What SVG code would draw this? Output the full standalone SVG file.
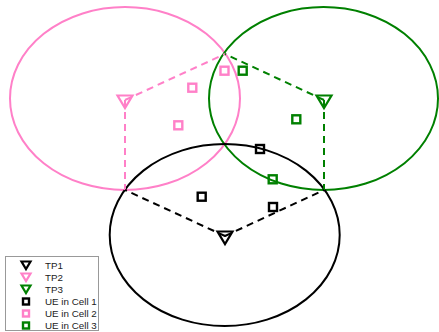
<svg xmlns="http://www.w3.org/2000/svg" width="439" height="332" viewBox="0 0 439 332">
<style>
.cell{fill:none;stroke-width:2}
.dash{fill:none;stroke-width:2;stroke-dasharray:7,5}
.tp{fill:none;stroke-width:2.2;stroke-linejoin:miter}
.ue{fill:none;stroke-width:2.4}
.k{stroke:#000}
.p{stroke:#ff80c8}
.g{stroke:#008000}
.lt{font-family:"Liberation Sans",Arial,sans-serif;font-size:9.8px;fill:#222}
</style>
<rect width="439" height="332" fill="#fff"/>
<g id="cells">
<ellipse id="cell2" class="cell p" cx="125" cy="98.5" rx="115" ry="91.5"/>
<ellipse id="cell3" class="cell g" cx="323.5" cy="98.5" rx="114.5" ry="91.5"/>
<ellipse id="cell1" class="cell k" cx="224.7" cy="235" rx="115" ry="91"/>
</g>
<g id="connectors">
<path class="dash p" d="M125,100 L225,54 M125,100 L125,190"/>
<path class="dash g" d="M324,100 L225,54 M324,100 L324,190"/>
<path class="dash k" d="M225,236 L125,190 M225,236 L324,190"/>
</g>
<g id="TP1"><path class="tp k" d="M217.5,231.5 h15 l-7.5,12.5 z"/></g>
<g id="TP2"><path class="tp p" d="M117.5,95.5 h15 l-7.5,12.5 z"/></g>
<g id="TP3"><path class="tp g" d="M316.5,95.5 h15 l-7.5,12.5 z"/></g>
<g id="UE2">
<rect class="ue p" x="220.5" y="66.7" width="8" height="8"/>
<rect class="ue p" x="188.3" y="83.7" width="8" height="8"/>
<rect class="ue p" x="174.3" y="121.3" width="8" height="8"/>
</g>
<g id="UE3">
<rect class="ue g" x="238.7" y="66.7" width="8" height="8"/>
<rect class="ue g" x="292.3" y="115.3" width="8" height="8"/>
<rect class="ue g" x="268.7" y="175.3" width="8" height="8"/>
</g>
<g id="UE1">
<rect class="ue k" x="256" y="145" width="8" height="8"/>
<rect class="ue k" x="197.7" y="192.7" width="8" height="8"/>
<rect class="ue k" x="269" y="203" width="8" height="8"/>
</g>
<g id="legend">
<rect x="5.5" y="256.5" width="93" height="74" fill="#fff" stroke="#999" stroke-width="1"/>
<path class="tp k" d="M21.5,261.5 h9 l-4.5,7.5 z"/>
<path class="tp p" d="M21.5,273.5 h9 l-4.5,7.5 z"/>
<path class="tp g" d="M21.5,285.5 h9 l-4.5,7.5 z"/>
<rect class="ue k" x="23" y="298.5" width="6" height="6"/>
<rect class="ue p" x="23" y="310.5" width="6" height="6"/>
<rect class="ue g" x="23" y="322.5" width="6" height="6"/>
<text class="lt" x="45" y="268.5">TP1</text>
<text class="lt" x="45" y="280.5">TP2</text>
<text class="lt" x="45" y="292.5">TP3</text>
<text class="lt" x="45" y="305">UE in Cell 1</text>
<text class="lt" x="45" y="317">UE in Cell 2</text>
<text class="lt" x="45" y="329">UE in Cell 3</text>
</g>
</svg>
